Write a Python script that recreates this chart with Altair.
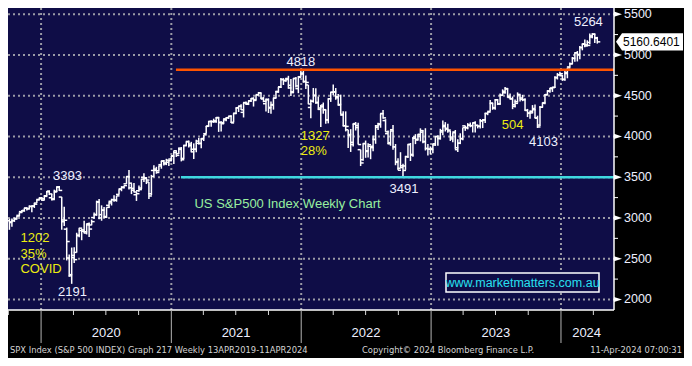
import altair as alt
import pandas as pd

# ---------------- layout ----------------
W, H = 606, 302
FONT = "Liberation Sans, Arial, sans-serif"
NARROW = "Liberation Sans Narrow, Arial Narrow, DejaVu Sans Condensed, sans-serif"

NAVY = "#0f0d47"
GRID = "#9a9aa6"
ORANGE = "#ff5400"
CYAN = "#3fd8e0"
YELLOW = "#ecec10"
WHITE_TXT = "#eef0ff"
GREEN = "#98f0a0"
WWW = "#28e0f0"

# ---------------- data: weekly OHLC (week ending Friday) ----------------
first_week = "2019-10-04"
last_week = "2024-04-12"

open_2019 = [2967, 2944, 2965, 2996, 3032, 3078, 3087, 3122, 3117, 3143, 3147, 3183, 3227]
high_2019 = [2992, 2993, 3000, 3027, 3067, 3097, 3120, 3127, 3154, 3150, 3182, 3226, 3248]
low_2019 = [2855, 2892, 2952, 2991, 3023, 3068, 3077, 3091, 3112, 3070, 3123, 3183, 3224]
close_2019 = [2952, 2970, 2986, 3023, 3067, 3093, 3120, 3110, 3141, 3146, 3169, 3221, 3240]

open_2020 = [3247, 3218, 3273, 3321, 3248, 3235, 3318, 3380, 3257, 2975, 2863, 2509, 2290, 2514,
             2578, 2782, 2846, 2854, 2815, 2915, 2914, 3005, 3038, 3200, 3000, 3094, 3018, 3155,
             3205, 3224, 3220, 3289, 3357, 3380, 3419, 3507, 3370, 3363, 3285, 3334, 3367, 3500,
             3493, 3441, 3297, 3583, 3600, 3579, 3654, 3698, 3675, 3684, 3723]
high_2020 = [3258, 3275, 3330, 3337, 3294, 3347, 3385, 3393, 3259, 3137, 2882, 2553, 2637, 2641,
             2819, 2880, 2868, 2965, 2934, 2945, 2980, 3068, 3212, 3233, 3155, 3135, 3132, 3198,
             3236, 3280, 3272, 3352, 3387, 3399, 3509, 3588, 3425, 3429, 3320, 3397, 3482, 3549,
             3502, 3441, 3529, 3646, 3628, 3645, 3701, 3712, 3726, 3711, 3760]
low_2020 = [3212, 3214, 3263, 3281, 3214, 3223, 3315, 3331, 2856, 2902, 2479, 2280, 2192, 2448,
            2575, 2762, 2727, 2817, 2798, 2767, 2910, 2991, 3026, 2984, 2966, 3004, 2999, 3125,
            3153, 3200, 3200, 3284, 3328, 3361, 3418, 3349, 3293, 3313, 3209, 3323, 3354, 3441,
            3416, 3233, 3280, 3512, 3543, 3570, 3604, 3645, 3648, 3637, 3697]
close_2020 = [3235, 3265, 3330, 3295, 3226, 3328, 3380, 3338, 2954, 2972, 2711, 2305, 2541, 2489,
              2790, 2875, 2837, 2831, 2930, 2864, 2955, 3044, 3194, 3041, 3098, 3009, 3130, 3185,
              3225, 3216, 3271, 3351, 3373, 3397, 3508, 3427, 3341, 3319, 3298, 3348, 3477, 3484,
              3465, 3270, 3509, 3585, 3558, 3638, 3699, 3663, 3709, 3703, 3756]

open_2021 = [3764, 3803, 3789, 3857, 3731, 3892, 3939, 3886, 3843, 3844, 3916, 3916, 3969, 4034,
             4124, 4182, 4186, 4192, 4228, 4169, 4170, 4216, 4230, 4248, 4174, 4285, 4351, 4372,
             4296, 4416, 4406, 4437, 4462, 4450, 4513, 4535, 4470, 4402, 4449, 4348, 4385, 4471,
             4553, 4610, 4701, 4689, 4712, 4628, 4548, 4710, 4587, 4733]
high_2021 = [3827, 3823, 3861, 3870, 3894, 3937, 3950, 3934, 3915, 3960, 3983, 3978, 4020, 4129,
             4191, 4195, 4218, 4238, 4238, 4188, 4212, 4234, 4249, 4261, 4286, 4356, 4372, 4394,
             4415, 4430, 4441, 4468, 4480, 4509, 4546, 4536, 4486, 4465, 4466, 4429, 4475, 4559,
             4608, 4718, 4715, 4718, 4744, 4705, 4713, 4731, 4740, 4808]
low_2021 = [3663, 3749, 3784, 3694, 3725, 3885, 3866, 3805, 3723, 3807, 3901, 3854, 3944, 4034,
            4119, 4118, 4169, 4168, 4056, 4062, 4155, 4188, 4215, 4165, 4174, 4275, 4300, 4326,
            4233, 4385, 4385, 4424, 4367, 4444, 4506, 4457, 4420, 4305, 4288, 4278, 4329, 4469,
            4537, 4595, 4631, 4672, 4585, 4495, 4532, 4600, 4531, 4733]
close_2021 = [3825, 3768, 3841, 3714, 3886, 3934, 3907, 3811, 3842, 3943, 3913, 3975, 4020, 4129,
              4185, 4180, 4181, 4233, 4174, 4156, 4204, 4230, 4247, 4166, 4281, 4352, 4370, 4327,
              4412, 4395, 4437, 4468, 4442, 4509, 4535, 4459, 4433, 4455, 4357, 4391, 4471, 4545,
              4605, 4697, 4683, 4698, 4595, 4538, 4712, 4620, 4725, 4766]

open_2022 = [4778, 4670, 4632, 4356, 4432, 4506, 4412, 4332, 4364, 4327, 4203, 4463, 4542, 4547,
             4474, 4385, 4262, 4130, 4082, 4014, 3928, 4151, 4134, 3838, 3715, 3913, 3816, 3880,
             3880, 3965, 4113, 4155, 4281, 4195, 4035, 3910, 4083, 3873, 3682, 3610, 3619, 3638,
             3753, 3902, 3780, 3977, 3956, 4005, 4053, 3939, 3853, 3843]
high_2022 = [4819, 4749, 4632, 4453, 4595, 4590, 4490, 4385, 4416, 4327, 4465, 4546, 4637, 4594,
             4521, 4513, 4308, 4308, 4082, 4090, 4160, 4177, 4168, 3838, 3913, 3950, 3918, 3880,
             4013, 4141, 4168, 4280, 4325, 4212, 4072, 4076, 4140, 3907, 3733, 3807, 3665, 3762,
             3905, 3920, 3993, 4028, 4034, 4100, 4076, 4101, 3907, 3878]
low_2022 = [4662, 4582, 4395, 4223, 4415, 4401, 4327, 4115, 4279, 4157, 4161, 4424, 4507, 4450,
            4381, 4268, 4124, 4062, 3859, 3810, 3876, 4073, 3900, 3637, 3702, 3738, 3742, 3721,
            3819, 3910, 4080, 4107, 4218, 4057, 3907, 3886, 3838, 3647, 3585, 3610, 3492, 3590,
            3735, 3699, 3751, 3906, 3947, 3940, 3918, 3828, 3765, 3780]
close_2022 = [4677, 4663, 4398, 4432, 4501, 4419, 4349, 4385, 4329, 4204, 4463, 4543, 4546, 4488,
              4393, 4272, 4132, 4123, 4024, 3901, 4158, 4109, 3901, 3675, 3912, 3825, 3899, 3863,
              3962, 4130, 4145, 4280, 4228, 4057, 3924, 4067, 3873, 3693, 3586, 3640, 3583, 3752,
              3901, 3771, 3993, 3965, 4026, 4072, 3934, 3852, 3845, 3840]

open_2023 = [3853, 3910, 3999, 3979, 4055, 4120, 4100, 4068, 3992, 4055, 3838, 3917, 3975, 4130,
             4111, 4140, 4132, 4166, 4136, 4127, 4191, 4201, 4282, 4308, 4405, 4354, 4450, 4398,
             4505, 4555, 4588, 4492, 4460, 4389, 4427, 4510, 4473, 4453, 4320, 4284, 4289, 4343,
             4229, 4140, 4358, 4407, 4509, 4555, 4586, 4599, 4725, 4758]
high_2023 = [3907, 4003, 4015, 4094, 4195, 4176, 4156, 4068, 4048, 4079, 3965, 4039, 4110, 4133,
             4164, 4170, 4170, 4186, 4143, 4213, 4213, 4290, 4300, 4448, 4409, 4458, 4456, 4527,
             4578, 4607, 4595, 4528, 4490, 4452, 4541, 4514, 4511, 4469, 4338, 4318, 4385, 4393,
             4255, 4374, 4418, 4521, 4568, 4597, 4610, 4739, 4778, 4793]
low_2023 = [3794, 3885, 3885, 3962, 4015, 4061, 4047, 3945, 3928, 3847, 3809, 3906, 3952, 4069,
            4087, 4113, 4049, 4048, 4099, 4098, 4103, 4166, 4261, 4307, 4327, 4327, 4385, 4390,
            4504, 4528, 4474, 4458, 4335, 4356, 4415, 4430, 4433, 4316, 4238, 4216, 4283, 4223,
            4104, 4128, 4354, 4394, 4506, 4537, 4546, 4594, 4699, 4751]
close_2023 = [3895, 3999, 3973, 4071, 4136, 4090, 4079, 3970, 4046, 3862, 3917, 3971, 4109, 4105,
              4138, 4133, 4169, 4136, 4124, 4192, 4205, 4282, 4299, 4410, 4348, 4450, 4399, 4505,
              4536, 4582, 4478, 4464, 4370, 4406, 4516, 4457, 4450, 4320, 4288, 4309, 4328, 4224,
              4117, 4358, 4415, 4514, 4559, 4595, 4604, 4719, 4755, 4770]

open_2024 = [4745, 4703, 4772, 4853, 4892, 4957, 5026, 5003, 5093, 5131, 5111, 5154, 5220, 5257, 5211]
high_2024 = [4755, 4802, 4842, 4907, 4975, 5030, 5048, 5111, 5141, 5190, 5180, 5262, 5265, 5264, 5222]
low_2024 = [4682, 4682, 4714, 4845, 4887, 4918, 4920, 4946, 5057, 5095, 5104, 5130, 5204, 5146, 5139]
close_2024 = [4697, 4784, 4840, 4891, 4959, 5027, 5006, 5089, 5137, 5124, 5117, 5234, 5254, 5204, 5160.64]

opens = open_2019 + open_2020 + open_2021 + open_2022 + open_2023 + open_2024
highs = high_2019 + high_2020 + high_2021 + high_2022 + high_2023 + high_2024
lows = low_2019 + low_2020 + low_2021 + low_2022 + low_2023 + low_2024
closes = close_2019 + close_2020 + close_2021 + close_2022 + close_2023 + close_2024

week_dates = pd.date_range(first_week, last_week, freq="W-FRI").strftime("%Y-%m-%d")
bars = pd.DataFrame({"date": week_dates, "open": opens, "high": highs, "low": lows, "close": closes})

# axis ticks / labels
y_major = [2000, 2500, 3000, 3500, 4000, 4500, 5000, 5500]
y_major_labels = ["2000", "2500", "3000", "3500", "4000", "4500", "5000", "5500"]
y_minor = [2250, 2750, 3250, 3750, 4250, 4750, 5250]
year_start_dates = ["2020-01-01", "2021-01-01", "2022-01-01", "2023-01-01", "2024-01-01"]
year_labels = ["2020", "2021", "2022", "2023", "2024"]
year_label_dates = ["2020-07-02", "2021-07-02", "2022-07-02", "2023-07-02", "2024-03-13"]
quarter_dates = ["2019-10-01"] + [f"{y}-{m:02d}-01" for y in [2020, 2021, 2022, 2023] for m in (4, 7, 10)] + ["2024-04-01"]

# horizontal levels
level_values = [4818, 3500]
level_starts = ["2021-01-14", "2021-01-28"]
level_colors = [ORANGE, CYAN]

# annotations
ann_center = pd.DataFrame({
    "text": ["3393", "2191", "4818", "3491", "4103", "5264", "504"],
    "date": ["2020-03-15", "2020-03-29", "2021-12-31", "2022-10-17", "2023-11-13", "2024-03-18", "2023-08-18"],
    "value": [3512, 2094, 4908, 3360, 3935, 5400, 4146],
    "color": [WHITE_TXT] * 6 + [YELLOW],
})
ann_left = pd.DataFrame({
    "text": ["1202", "35%", "COVID", "1327", "28%", "US S&P500 Index Weekly Chart"],
    "date": ["2019-11-04", "2019-11-04", "2019-11-04", "2021-12-31", "2021-12-31", "2021-03-07"],
    "value": [2750, 2563, 2375, 4005, 3817, 3172],
    "color": [YELLOW] * 5 + [GREEN],
})
last_value = [5160.64]
last_label = ["5160.6401"]

# ---------------- scales ----------------
x_scale = alt.Scale(domain=[alt.DateTime(year=2019, month=9, date=30),
                            alt.DateTime(year=2024, month=5, date=29)], nice=False)
y_scale = alt.Scale(domain=[1871, 5576], nice=False, zero=False)


def X(field):
    return alt.X(f"{field}:T", scale=x_scale, axis=None)


def Y(field):
    return alt.Y(f"{field}:Q", scale=y_scale, axis=None)


one = pd.DataFrame({"k": [0]})

# grid
ygrid_df = pd.DataFrame({"v": y_major, "label": y_major_labels})
ygrid = alt.Chart(ygrid_df).mark_rule(color=GRID, strokeWidth=2, strokeDash=[2, 3]).encode(
    y=Y("v"), x=alt.value(0), x2=alt.value(W))
xgrid_df = pd.DataFrame({"d": year_start_dates})
xgrid = alt.Chart(xgrid_df).mark_rule(color=GRID, strokeWidth=2, strokeDash=[2, 3]).encode(
    x=X("d"), y=alt.value(0), y2=alt.value(H))

# bars
base = alt.Chart(bars)
hl = base.mark_rule(color="white", strokeWidth=1.5).encode(x=X("date"), y=Y("low"), y2="high:Q")
op = base.mark_tick(orient="horizontal", color="white", thickness=1.5, size=3, xOffset=-1.5, opacity=1).encode(
    x=X("date"), y=Y("open"))
cl = base.mark_tick(orient="horizontal", color="white", thickness=1.5, size=3, xOffset=1.5, opacity=1).encode(
    x=X("date"), y=Y("close"))

levels_df = pd.DataFrame({"start": level_starts, "level": level_values, "color": level_colors})
levels = alt.Chart(levels_df).mark_rule(strokeWidth=2.5).encode(
    x=X("start"), x2=alt.value(W), y=Y("level"), color=alt.Color("color:N", scale=None))

txt_c = alt.Chart(ann_center).mark_text(align="center", baseline="middle", fontSize=13, font=FONT).encode(
    x=X("date"), y=Y("value"), text="text:N", color=alt.Color("color:N", scale=None))
txt_l = alt.Chart(ann_left).mark_text(align="left", baseline="middle", fontSize=13, font=FONT).encode(
    x=X("date"), y=Y("value"), text="text:N", color=alt.Color("color:N", scale=None))

# axis lines
right_line = alt.Chart(one).mark_rule(color="white", strokeWidth=1.5).encode(
    x=alt.value(W), y=alt.value(0), y2=alt.value(H))
bottom_line = alt.Chart(one).mark_rule(color="white", strokeWidth=1.5).encode(
    x=alt.value(0), x2=alt.value(W), y=alt.value(H))

# right axis
minor_df = pd.DataFrame({"v": y_minor})
minor = alt.Chart(minor_df).mark_rule(color="white", strokeWidth=1).encode(
    y=Y("v"), x=alt.value(W), x2=alt.value(W + 4))
arrows = alt.Chart(ygrid_df).mark_point(shape="M -1 -0.65 L 1 0 L -1 0.65 Z", size=64, filled=True,
                                        color="white", opacity=1, strokeWidth=0).encode(
    y=Y("v"), x=alt.value(W + 4))
ylab = alt.Chart(ygrid_df).mark_text(align="left", baseline="middle", fontSize=12.5, font=FONT,
                                     color=WHITE_TXT).encode(
    y=Y("v"), x=alt.value(W + 10), text="label:N")

tag_df = pd.DataFrame({"v": last_value, "label": last_label})
tag = alt.Chart(tag_df).mark_point(shape="M -1 0 L -0.82 -0.26 L 1 -0.26 L 1 0.26 L -0.82 0.26 Z",
                                   size=67 * 67, filled=True, color="white", opacity=1, strokeWidth=0).encode(
    y=Y("v"), x=alt.value(W + 2 + 33.5))
tag_txt = alt.Chart(tag_df).mark_text(align="left", baseline="middle", fontSize=12, font=FONT, color="black").encode(
    y=Y("v"), x=alt.value(W + 9), text="label:N")

# bottom axis
yticks = alt.Chart(xgrid_df).mark_rule(color="#b4b4b4", strokeWidth=1).encode(
    x=X("d"), y=alt.value(H), y2=alt.value(H + 33))
q_df = pd.DataFrame({"q": quarter_dates})
qticks = alt.Chart(q_df).mark_rule(color="#d8d8d8", strokeWidth=1).encode(
    x=X("q"), y=alt.value(H), y2=alt.value(H + 5))
yl_df = pd.DataFrame({"d": year_label_dates, "t": year_labels})
ylabels = alt.Chart(yl_df).mark_text(align="center", baseline="middle", fontSize=13, font=FONT,
                                     color=WHITE_TXT).encode(
    x=X("d"), y=alt.value(H + 23), text="t:N")

www_box = alt.Chart(one).mark_rect(fill=NAVY, stroke="white", strokeWidth=1.5).encode(
    x=alt.value(438), x2=alt.value(591), y=alt.value(265), y2=alt.value(284))
www_txt = alt.Chart(one).mark_text(align="center", baseline="middle", fontSize=12.5, font=FONT,
                                   color=WWW, text="www.marketmatters.com.au").encode(
    x=alt.value(514.5), y=alt.value(274.5))

foot_color = "#d4d4d4"
FS = 9.3
foot_l = alt.Chart(one).mark_text(align="left", baseline="middle", fontSize=FS, font=NARROW, color=foot_color,
                                  text="SPX Index (S&P 500 INDEX) Graph 217  Weekly 13APR2019-11APR2024").encode(
    x=alt.value(2), y=alt.value(H + 40))
foot_c = alt.Chart(one).mark_text(align="center", baseline="middle", fontSize=FS, font=NARROW, color=foot_color,
                                  text="Copyright© 2024 Bloomberg Finance L.P.").encode(
    x=alt.value(440), y=alt.value(H + 40))
foot_r = alt.Chart(one).mark_text(align="right", baseline="middle", fontSize=FS, font=NARROW, color=foot_color,
                                  text="11-Apr-2024 07:00:31").encode(
    x=alt.value(674), y=alt.value(H + 40))

chart = alt.layer(
    ygrid, xgrid, hl, op, cl, levels, txt_c, txt_l, right_line, bottom_line,
    minor, arrows, ylab, tag, tag_txt, yticks, qticks, ylabels,
    www_box, www_txt, foot_l, foot_c, foot_r,
).properties(
    width=W, height=H,
    autosize=alt.AutoSizeParams(type="none"),
    padding={"left": 0, "top": 0, "right": 70, "bottom": 48},
).configure(
    background="black",
).configure_view(
    fill=NAVY, strokeWidth=0,
)

chart.save("out.html", embed_options={"renderer": "svg", "actions": False})
